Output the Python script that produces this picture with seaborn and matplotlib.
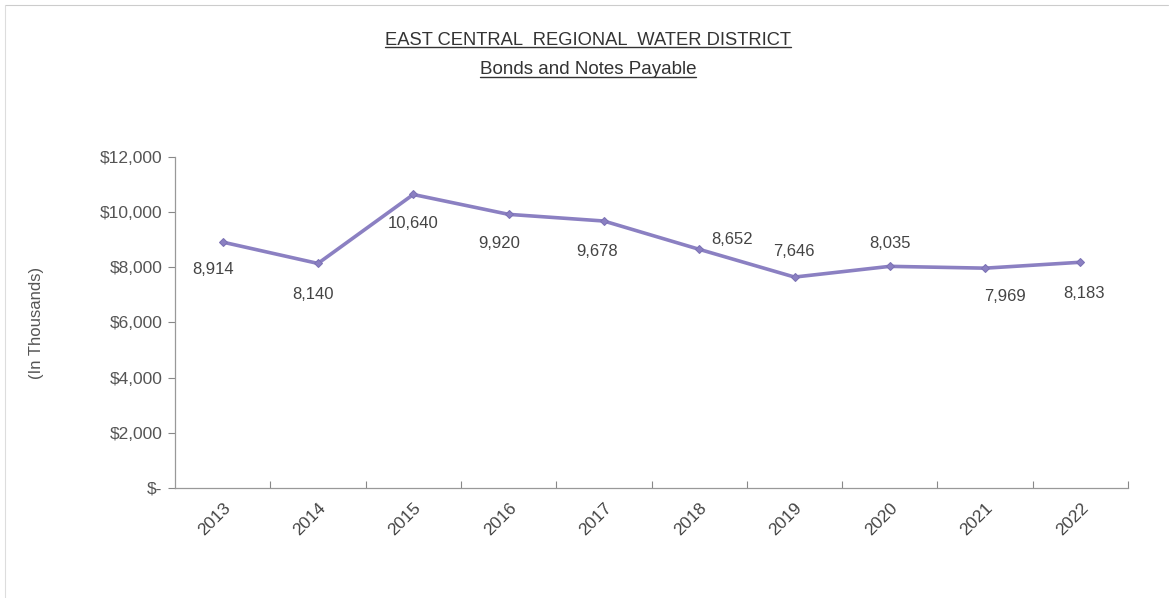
import matplotlib
matplotlib.use("Agg")
import matplotlib.pyplot as plt
import matplotlib.ticker as mticker
import pandas as pd
import seaborn as sns

# Data
years = ['2013', '2014', '2015', '2016', '2017', '2018', '2019', '2020', '2021', '2022']
payable = [8914, 8140, 10640, 9920, 9678, 8652, 7646, 8035, 7969, 8183]
# where each value label sits relative to its point (in pixels, converted below)
label_offsets_px = [(-10, -27), (-5, -31), (0, -29), (-9, -29), (-7, -30),
                    (33, 10), (-1, 26), (0, 23), (20, -28), (4, -31)]

df = pd.DataFrame({'year': years, 'value': payable})

sns.set_style("white")
plt.rcParams['font.family'] = ['Liberation Sans', 'DejaVu Sans']

grey = '#555555'
line_col = '#8b80c2'

fig = plt.figure(figsize=(11.69, 5.98), dpi=100)
ax = fig.add_axes([0.1497, 0.184, 0.8153, 0.5535])

sns.lineplot(data=df, x='year', y='value', ax=ax, color=line_col, linewidth=2.6,
             marker='D', markersize=4.5, markeredgecolor='#7c72b5', sort=False)

for i, (v, off) in enumerate(zip(payable, label_offsets_px)):
    ax.annotate(f'{v:,}', (i, v), xytext=(off[0] * 0.72, off[1] * 0.72),
                textcoords='offset points', ha='center', va='center',
                fontsize=12, color='#444444')

ax.set_xlim(-0.5, len(years) - 0.5)
ax.set_ylim(0, 12000)
ax.yaxis.set_major_locator(mticker.MultipleLocator(2000))
ax.yaxis.set_major_formatter(mticker.FuncFormatter(
    lambda v, p: '$-' if v == 0 else f'${v:,.0f}'))

ax.set_xticks(range(len(years)))
ax.set_xticklabels(years, rotation=45, ha='right', rotation_mode='anchor')
ax.set_xticks([i + 0.5 for i in range(len(years))], minor=True)
ax.tick_params(axis='x', which='major', bottom=True, length=0, pad=9,
               labelsize=12.5, labelcolor='#444444')
ax.tick_params(axis='x', which='minor', bottom=True, length=5, direction='in',
               color='#888888', width=0.8)
ax.tick_params(axis='y', left=True, length=5, direction='out', color='#888888', width=0.8,
               labelsize=12.5, labelcolor=grey, pad=4)

ax.set_xlabel('')
ax.set_ylabel('(In Thousands)', fontsize=12, color=grey, labelpad=40)

sns.despine(ax=ax, top=True, right=True)
for s in ['left', 'bottom']:
    ax.spines[s].set_color('#999999')
    ax.spines[s].set_linewidth(0.9)

# underlined title lines
t1 = fig.text(0.503, 0.933, 'EAST CENTRAL  REGIONAL  WATER DISTRICT', ha='center', va='center',
              fontsize=13.2, color='#333333')
t2 = fig.text(0.503, 0.883, 'Bonds and Notes Payable', ha='center', va='center',
              fontsize=13.5, color='#333333')
fig.canvas.draw()
for t in (t1, t2):
    bb = t.get_window_extent().transformed(fig.transFigure.inverted())
    fig.add_artist(plt.Line2D([bb.x0, bb.x1], [bb.y0 + 0.002, bb.y0 + 0.002],
                              transform=fig.transFigure, color='#333333', linewidth=1))

# faint scan frame
fig.add_artist(plt.Line2D([0.004, 0.999], [0.991, 0.991], transform=fig.transFigure,
                          color='#cccccc', linewidth=0.8))
fig.add_artist(plt.Line2D([0.004, 0.004], [0.0, 0.991], transform=fig.transFigure,
                          color='#dddddd', linewidth=0.8))

fig.savefig('out.png', dpi=100)
